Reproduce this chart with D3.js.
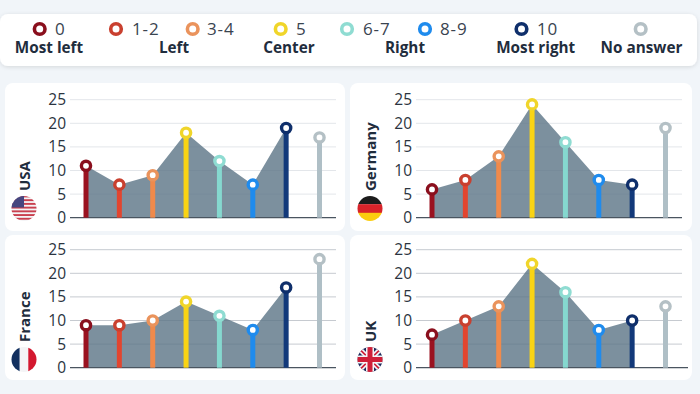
<!DOCTYPE html>
<html>
<head>
<meta charset="utf-8">
<script src="https://cdn.jsdelivr.net/npm/d3@7"></script>
<style>
  html, body { margin: 0; padding: 0; background: #f1f5f9; overflow: hidden; }
  text { font-family: "Open Sans", sans-serif; }
</style>
</head>
<body>
<svg id="chart" width="700" height="394"></svg>
<script>
const categories = ['0', '1-2', '3-4', '5', '6-7', '8-9', '10', 'No answer'];
const colors = ['#9a1220', '#e2452f', '#f08a4b', '#fad414', '#85d8cf', '#1f8bed', '#12397a', '#afbfc6'];
const ringColors = ['#8a0f1d', '#c9402f', '#ea935c', '#f0d52a', '#8fdcd2', '#1f8bed', '#0f2f6b', '#b4c0c5'];
const ticks = [0, 5, 10, 15, 20, 25];

const usa = [11, 7, 9, 18, 12, 7, 19, 17];
const germany = [6, 8, 13, 24, 16, 8, 7, 19];
const france = [9, 9, 10, 14, 11, 8, 17, 23];
const uk = [7, 10, 13, 22, 16, 8, 10, 13];

const svg = d3.select('#chart');
const defs = svg.append('defs');

const shadow = defs.append('filter').attr('id', 'shadow')
  .attr('x', '-5%').attr('y', '-20%').attr('width', '110%').attr('height', '140%');
shadow.append('feDropShadow').attr('dx', 0).attr('dy', 1).attr('stdDeviation', 2)
  .attr('flood-color', '#000').attr('flood-opacity', 0.12);

// legend
svg.append('rect').attr('x', 0).attr('y', 14).attr('width', 697).attr('height', 52)
  .attr('rx', 8).attr('fill', '#fff').attr('filter', 'url(#shadow)');

const legendRings = [39.7, 116, 192.7, 280.7, 347, 425, 521.5, 640.7];
const legendLabels = [55, 132, 207, 296, 363, 440, 537, null];
legendRings.forEach((x, i) => {
  svg.append('circle').attr('cx', x).attr('cy', 29).attr('r', 5.3)
    .attr('fill', '#fff').attr('stroke', ringColors[i]).attr('stroke-width', 3.6);
  if (legendLabels[i] !== null) {
    svg.append('text').attr('x', legendLabels[i]).attr('y', 35)
      .attr('font-size', 17).attr('fill', '#3a4450').attr('letter-spacing', 0.9)
      .text(categories[i]);
  }
});

const groupLabels = ['Most left', 'Left', 'Center', 'Right', 'Most right', 'No answer'];
const groupX = [49, 174, 289, 405, 535.7, 641.5];
groupLabels.forEach((t, i) => {
  svg.append('text').attr('x', groupX[i]).attr('y', 53).attr('text-anchor', 'middle')
    .attr('font-size', 15.3).attr('font-weight', 700).attr('fill', '#1f2d3d').text(t);
});

function flagUS(g) {
  const stripes = d3.range(7);
  g.append('rect').attr('x', -13).attr('y', -13).attr('width', 26).attr('height', 26).attr('fill', '#f4f4f6');
  stripes.forEach(i => {
    g.append('rect').attr('x', -13).attr('y', -13 + i * 3.72).attr('width', 26).attr('height', 1.9).attr('fill', '#c9404f');
  });
  g.append('rect').attr('x', -13).attr('y', -13).attr('width', 13).attr('height', 12).attr('fill', '#46467f');
}
function flagDE(g) {
  [['#1c1c1c', -13], ['#d8232a', -4.3], ['#fbcd0f', 4.3]].forEach(([c, y]) => {
    g.append('rect').attr('x', -13).attr('y', y).attr('width', 26).attr('height', 8.8).attr('fill', c);
  });
}
function flagFR(g) {
  [['#12305f', -13], ['#f4f4f6', -4.3], ['#d3182f', 4.3]].forEach(([c, x]) => {
    g.append('rect').attr('x', x).attr('y', -13).attr('width', 8.8).attr('height', 26).attr('fill', c);
  });
}
function flagUK(g) {
  g.append('rect').attr('x', -13).attr('y', -13).attr('width', 26).attr('height', 26).attr('fill', '#1f2a5c');
  g.append('path').attr('d', 'M-13,-13L13,13M13,-13L-13,13').attr('stroke', '#f4f4f6').attr('stroke-width', 5);
  g.append('path').attr('d', 'M-13,-13L13,13M13,-13L-13,13').attr('stroke', '#cf1f38').attr('stroke-width', 1.6);
  g.append('path').attr('d', 'M0,-13V13M-13,0H13').attr('stroke', '#f4f4f6').attr('stroke-width', 8);
  g.append('path').attr('d', 'M0,-13V13M-13,0H13').attr('stroke', '#cf1f38').attr('stroke-width', 5);
}

// each panel: card box, plot box, country label and flag
function drawPanel(name, values, drawFlag, card, flagX, flagY, labelY) {
  const g = svg.append('g');
  g.append('rect').attr('x', card.boxX).attr('y', card.y).attr('width', card.boxW).attr('height', card.h)
    .attr('rx', 8).attr('fill', '#fff');

  const x = d3.scalePoint().domain(categories)
    .range([card.x + 81, card.x + 314.5]);
  const y = d3.scaleLinear().domain([0, 25]).range([card.y + card.base, card.y + card.base - 118]);
  const left = card.x + 65, right = card.x + 331;

  const yAxis = g.append('g').attr('transform', `translate(${left},0)`)
    .call(d3.axisLeft(y).tickValues(ticks).tickSize(0).tickPadding(4));
  yAxis.select('.domain').remove();
  yAxis.selectAll('text').attr('font-size', 15.5).attr('fill', '#2b3440')
    .style('font-family', '"Open Sans", sans-serif');

  g.selectAll('.grid').data(ticks.slice(1)).enter().append('line')
    .attr('x1', left).attr('x2', right)
    .attr('y1', d => y(d)).attr('y2', d => y(d))
    .attr('stroke', card.grid).attr('stroke-width', 1);

  // area runs over the first seven answers only
  const area = d3.area().x((d, i) => x(categories[i])).y0(y(0)).y1(d => y(d));
  g.append('path').datum(values.slice(0, 7)).attr('d', area)
    .attr('fill', '#5b7486').attr('fill-opacity', 0.8);

  g.append('line').attr('x1', left).attr('x2', right + card.axisExtra).attr('y1', y(0)).attr('y2', y(0))
    .attr('stroke', '#4a5560').attr('stroke-width', 1.2);

  g.selectAll('.stem').data(values).enter().append('line')
    .attr('x1', (d, i) => x(categories[i])).attr('x2', (d, i) => x(categories[i]))
    .attr('y1', y(0)).attr('y2', d => y(d))
    .attr('stroke', (d, i) => colors[i]).attr('stroke-width', 5);

  g.selectAll('.dot').data(values).enter().append('circle')
    .attr('cx', (d, i) => x(categories[i])).attr('cy', d => y(d)).attr('r', 4.6)
    .attr('fill', '#fff').attr('stroke', (d, i) => ringColors[i]).attr('stroke-width', 3.4);

  g.append('text').attr('transform', `translate(${card.x + 25},${labelY}) rotate(-90)`)
    .attr('font-size', 15).attr('font-weight', 700).attr('fill', '#1f2d3d').text(name);

  const id = 'clip' + name;
  defs.append('clipPath').attr('id', id).append('circle').attr('r', 12.5);
  const f = g.append('g').attr('transform', `translate(${flagX},${flagY})`)
    .append('g').attr('clip-path', `url(#${id})`);
  drawFlag(f);
}

drawPanel('USA', usa, flagUS, { x: 5, boxX: 5, boxW: 340, y: 83, h: 148, base: 134.7, grid: '#e3e6ea', axisExtra: 0 }, 24, 208.5, 191);
drawPanel('Germany', germany, flagDE, { x: 351, boxX: 350, boxW: 342, y: 83, h: 148, base: 134.7, grid: '#e3e6ea', axisExtra: 0 }, 370, 208.5, 191);
drawPanel('France', france, flagFR, { x: 5, boxX: 5, boxW: 340, y: 235, h: 145, base: 132.7, grid: '#c6cad0', axisExtra: 0 }, 24, 359.5, 342);
drawPanel('UK', uk, flagUK, { x: 351, boxX: 350, boxW: 342, y: 235, h: 145, base: 132.7, grid: '#c6cad0', axisExtra: 6 }, 370, 359.5, 342);
</script>
</body>
</html>
